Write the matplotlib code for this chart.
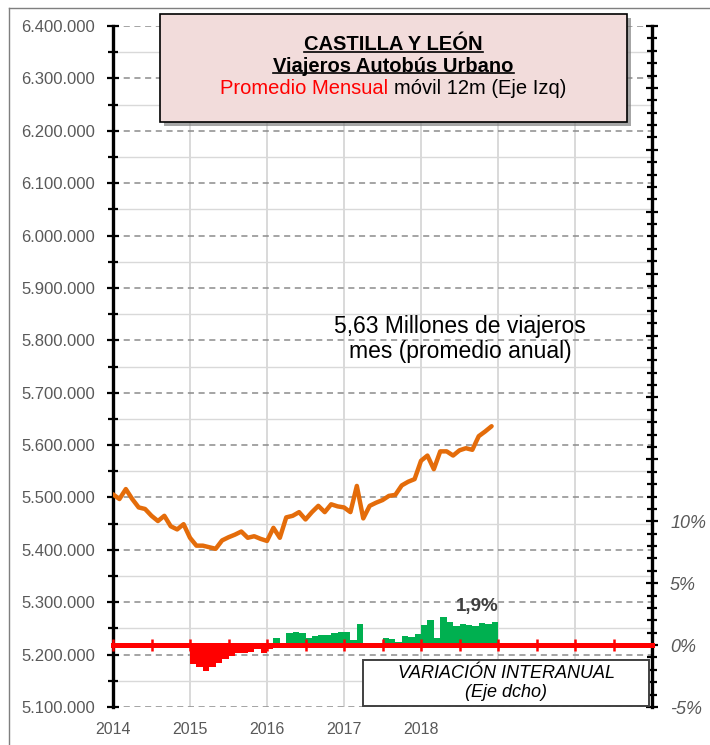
import matplotlib
matplotlib.use("Agg")
import matplotlib.pyplot as plt
import matplotlib.ticker as mticker
import matplotlib.patheffects as pe
from matplotlib.patches import Rectangle
from matplotlib.lines import Line2D

plt.rcParams['font.family'] = ['Liberation Sans', 'DejaVu Sans']

W, H = 710, 745

# promedio mensual movil 12m (viajeros), ene 2014 - dic 2018
prom_2014 = [5506000, 5497000, 5516000, 5497000, 5481000, 5478000,
             5465000, 5455000, 5465000, 5445000, 5439000, 5449000]
prom_2015 = [5423000, 5408000, 5408000, 5405000, 5402000, 5418000,
             5424000, 5429000, 5435000, 5423000, 5426000, 5421000]
prom_2016 = [5417000, 5442000, 5423000, 5462000, 5465000, 5472000,
             5458000, 5472000, 5484000, 5472000, 5487000, 5483000]
prom_2017 = [5481000, 5472000, 5522000, 5460000, 5484000, 5490000,
             5495000, 5503000, 5505000, 5523000, 5530000, 5535000]
prom_2018 = [5570000, 5580000, 5554000, 5588000, 5588000, 5580000,
             5590000, 5594000, 5591000, 5617000, 5626000, 5636000]
promedio = prom_2014 + prom_2015 + prom_2016 + prom_2017 + prom_2018

# variacion interanual (%), ene 2015 - dic 2018
var_2015 = [-1.56, -1.75, -2.07, -1.75, -1.48, -1.15, -0.86, -0.67, -0.62, -0.54, -0.35, -0.62]
var_2016 = [-0.30, 0.54, 0.10, 0.94, 1.05, 0.94, 0.54, 0.72, 0.78, 0.83, 0.99, 1.05]
var_2017 = [1.08, 0.40, 1.67, 0.05, 0.20, 0.20, 0.60, 0.50, 0.27, 0.73, 0.67, 0.86]
var_2018 = [1.61, 2.00, 0.54, 2.28, 1.88, 1.56, 1.67, 1.61, 1.56, 1.75, 1.72, 1.90]
variacion = var_2015 + var_2016 + var_2017 + var_2018

years = [2014, 2015, 2016, 2017, 2018, 2019, 2020, 2021]
year_labels = ['2014', '2015', '2016', '2017', '2018']

x_line = [2014 + i / 12 for i in range(len(promedio))]
x_bars = [2015 + i / 12 for i in range(len(variacion))]

fig = plt.figure(figsize=(W / 100, H / 100), dpi=100)
pos = [113 / W, 1 - 707 / H, (652 - 113) / W, (707 - 26) / H]

# eje izquierdo: promedio movil
ax = fig.add_axes(pos)
ax.set_xlim(2014, 2021)
ax.set_ylim(5100000, 6400000)
ax.plot(x_line, promedio, color='#E46C0A', lw=3.2, solid_capstyle='round', zorder=3)

ax.yaxis.set_major_locator(mticker.MultipleLocator(100000))
ax.yaxis.set_minor_locator(mticker.MultipleLocator(50000))
ax.yaxis.set_major_formatter(mticker.FuncFormatter(lambda v, p: f"{v:,.0f}".replace(',', '.')))
ax.set_xticks(years)
ax.set_xticklabels(year_labels + [''] * (len(years) - len(year_labels)))

ax.grid(which='major', axis='y', color='#8c8c8c', ls=(0, (4, 3)), lw=1.1)
ax.grid(which='minor', axis='y', color='#d9d9d9', ls='-', lw=1.0)
ax.grid(which='major', axis='x', color='#d9d9d9', ls='-', lw=1.4)

for s in ['top', 'right', 'bottom']:
    ax.spines[s].set_visible(False)
ax.spines['left'].set_linewidth(2.4)
ax.tick_params(axis='y', which='major', direction='inout', length=8, width=1.6,
               labelsize=12, labelcolor='#595959', pad=9)
ax.tick_params(axis='y', which='minor', direction='inout', length=7, width=1.6)
ax.tick_params(axis='x', length=0, labelsize=11.5, labelcolor='#595959', pad=11)

# eje derecho: variacion interanual
ax2 = fig.add_axes(pos, facecolor='none')
ax2.set_xlim(2014, 2021)
ax2.set_ylim(-5, 50)
colors = ['#00B050' if v >= 0 else '#FF0000' for v in variacion]
ax2.bar(x_bars, variacion, width=1 / 12, align='edge', color=colors, lw=0)

ax2.yaxis.tick_right()
ax2.yaxis.set_major_locator(mticker.MultipleLocator(5))
ax2.yaxis.set_minor_locator(mticker.MultipleLocator(1))
ax2.yaxis.set_major_formatter(mticker.FuncFormatter(lambda v, p: f"{v:.0f}%" if v <= 10 else ''))
ax2.xaxis.set_major_locator(mticker.MultipleLocator(0.5))
for s in ['top', 'left']:
    ax2.spines[s].set_visible(False)
ax2.spines['right'].set_linewidth(2.4)
ax2.spines['bottom'].set_position(('data', 0))
ax2.spines['bottom'].set_color('#FF0000')
ax2.spines['bottom'].set_linewidth(3.6)
ax2.tick_params(axis='x', direction='inout', length=8, width=1.8, color='#FF0000',
                labelbottom=False)
ax2.tick_params(axis='y', which='major', direction='inout', length=8, width=1.6,
                labelsize=13, labelcolor='#595959', pad=9)
ax2.tick_params(axis='y', which='minor', direction='inout', length=7, width=1.6)
for t in ax2.get_yticklabels():
    t.set_fontstyle('italic')

# marco del grafico
fig.add_artist(Line2D([9 / W, 9 / W], [0, 1 - 8 / H], color='#7f7f7f', lw=1))
fig.add_artist(Line2D([9 / W, 1], [1 - 8 / H, 1 - 8 / H], color='#7f7f7f', lw=1))

# cuadro del titulo
title_box = Rectangle((160 / W, 1 - 122 / H), 467 / W, 108 / H, transform=fig.transFigure,
                      facecolor='#F2DCDB', edgecolor='black', lw=1.2,
                      path_effects=[pe.SimplePatchShadow(offset=(3, -3), shadow_rgbFace='#808080',
                                                         alpha=0.7), pe.Normal()])
fig.add_artist(title_box)
cx = 393.5 / W
t1 = fig.text(cx, 1 - 45 / H, 'CASTILLA Y LEÓN', ha='center', va='center',
              fontsize=14.5, fontweight='bold')
t2 = fig.text(cx, 1 - 66 / H, 'Viajeros Autobús Urbano', ha='center', va='center',
              fontsize=14.5, fontweight='bold')
full = 'Promedio Mensual móvil 12m (Eje Izq)'
t3 = fig.text(cx, 1 - 89 / H, full, ha='center', va='center', fontsize=14.5)

fig.canvas.draw()
r = fig.canvas.get_renderer()
for t in (t1, t2):
    bb = t.get_window_extent(r)
    yl = (bb.y0 + 3) / H
    fig.add_artist(Line2D([bb.x0 / W, bb.x1 / W], [yl, yl], color='black', lw=1.2))
bb3 = t3.get_window_extent(r)
t3.set_visible(False)
fig.text(bb3.x0 / W, 1 - 89 / H, 'Promedio Mensual', ha='left', va='center',
         fontsize=14.5, color='#FF0000')
fig.text(bb3.x1 / W, 1 - 89 / H, 'móvil 12m (Eje Izq)', ha='right', va='center',
         fontsize=14.5, color='black')

# anotaciones
fig.text(460 / W, 1 - 339 / H, '5,63 Millones de viajeros\nmes (promedio anual)',
         ha='center', va='center', fontsize=16.5, linespacing=1.15)
fig.text(477 / W, 1 - 607 / H, '1,9%', ha='center', va='center', fontsize=13.5,
         fontweight='bold', color='#404040')

var_box = Rectangle((363 / W, 1 - 706 / H), 286 / W, 46 / H, transform=fig.transFigure,
                    facecolor='white', edgecolor='#404040', lw=1.4)
fig.add_artist(var_box)
fig.text(506 / W, 1 - 683 / H, 'VARIACIÓN INTERANUAL\n(Eje dcho)', ha='center', va='center',
         fontsize=13, fontstyle='italic', linespacing=1.1)

fig.savefig('out.png', dpi=100)
